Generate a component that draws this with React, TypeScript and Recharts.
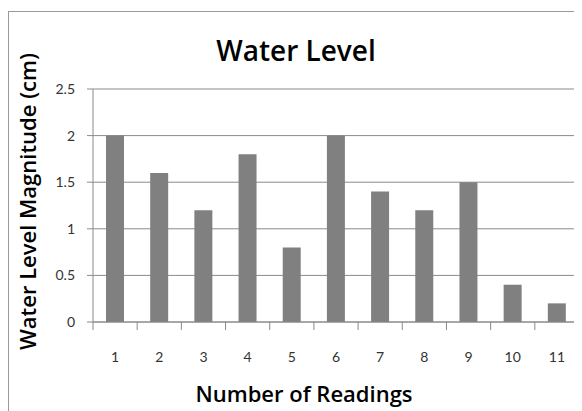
import React from 'react';
import { BarChart, Bar, XAxis, YAxis, CartesianGrid, Label } from 'recharts';

const readings = ['1', '2', '3', '4', '5', '6', '7', '8', '9', '10', '11'];
const levels = [2, 1.6, 1.2, 1.8, 0.8, 2, 1.4, 1.2, 1.5, 0.4, 0.2];
const yTicks = [0, 0.5, 1, 1.5, 2, 2.5];

const data = readings.map((r, i) => ({ reading: r, level: levels[i] }));

const FONT = 'Lato, "Open Sans", sans-serif';
const TITLE_FONT = '"Open Sans", Lato, sans-serif';
const AXIS = '#8a8a8a';

function XTick(props: any) {
  const { x, y, payload, index, visibleTicksCount } = props;
  const half = payload.offset ?? 0;
  return (
    <g>
      <line x1={x - half} x2={x - half} y1={y} y2={y + 8} stroke={AXIS} />
      {index === visibleTicksCount - 1 && (
        <line x1={x + half} x2={x + half} y1={y} y2={y + 8} stroke={AXIS} />
      )}
      <text x={x} y={y + 40} textAnchor="middle" fontSize={14} fill="#333" fontFamily={FONT}>
        {payload.value}
      </text>
    </g>
  );
}

export default function App() {
  return (
    <div style={{ position: 'relative', width: 574, height: 403, overflow: 'hidden', background: '#fff' }}>
      <div
        style={{
          position: 'absolute',
          left: 0,
          top: 3,
          width: 574,
          height: 400,
          borderTop: '1px solid #999',
          borderLeft: '1px solid #999',
          boxSizing: 'border-box',
        }}
      />
      <div
        style={{
          position: 'absolute',
          left: 0,
          top: 28,
          width: 576,
          textAlign: 'center',
          fontFamily: TITLE_FONT,
          fontWeight: 600,
          fontSize: 28,
          lineHeight: '28px',
          color: '#000',
        }}
      >
        Water Level
      </div>
      <BarChart
        width={574}
        height={403}
        data={data}
        margin={{ top: 81, right: 3, bottom: 29, left: 0 }}
        style={{ position: 'absolute', left: 0, top: 0 }}
      >
        <CartesianGrid vertical={false} stroke={AXIS} strokeWidth={1} />
        <XAxis
          dataKey="reading"
          height={60}
          stroke={AXIS}
          tickLine={false}
          tickSize={0}
          tickMargin={0}
          tick={<XTick />}
          interval={0}
        >
          <Label
            content={(p: any) => {
              const vb = p.viewBox;
              return (
                <text
                  x={vb.x + vb.width / 2 - 32}
                  y={vb.y + 80}
                  textAnchor="middle"
                  fontSize={22}
                  fontWeight={600}
                  fontFamily={TITLE_FONT}
                  fill="#000"
                >
                  Number of Readings
                </text>
              );
            }}
          />
        </XAxis>
        <YAxis
          width={85}
          domain={[0, 2.5]}
          ticks={yTicks}
          interval={0}
          stroke={AXIS}
          tickSize={6}
          tickMargin={12}
          tick={{ fill: '#333', fontSize: 14, fontFamily: FONT }}
        >
          <Label
            content={(p: any) => {
              const vb = p.viewBox;
              const cx = vb.x + 19;
              const cy = vb.y + vb.height / 2 - 4;
              return (
                <text
                  x={cx}
                  y={cy}
                  transform={`rotate(-90 ${cx} ${cy})`}
                  textAnchor="middle"
                  dominantBaseline="central"
                  fontSize={22}
                  fontWeight={600}
                  fontFamily={TITLE_FONT}
                  fill="#000"
                >
                  Water Level Magnitude (cm)
                </text>
              );
            }}
          />
        </YAxis>
        <Bar dataKey="level" fill="#808080" barSize={18} isAnimationActive={false} />
      </BarChart>
    </div>
  );
}
